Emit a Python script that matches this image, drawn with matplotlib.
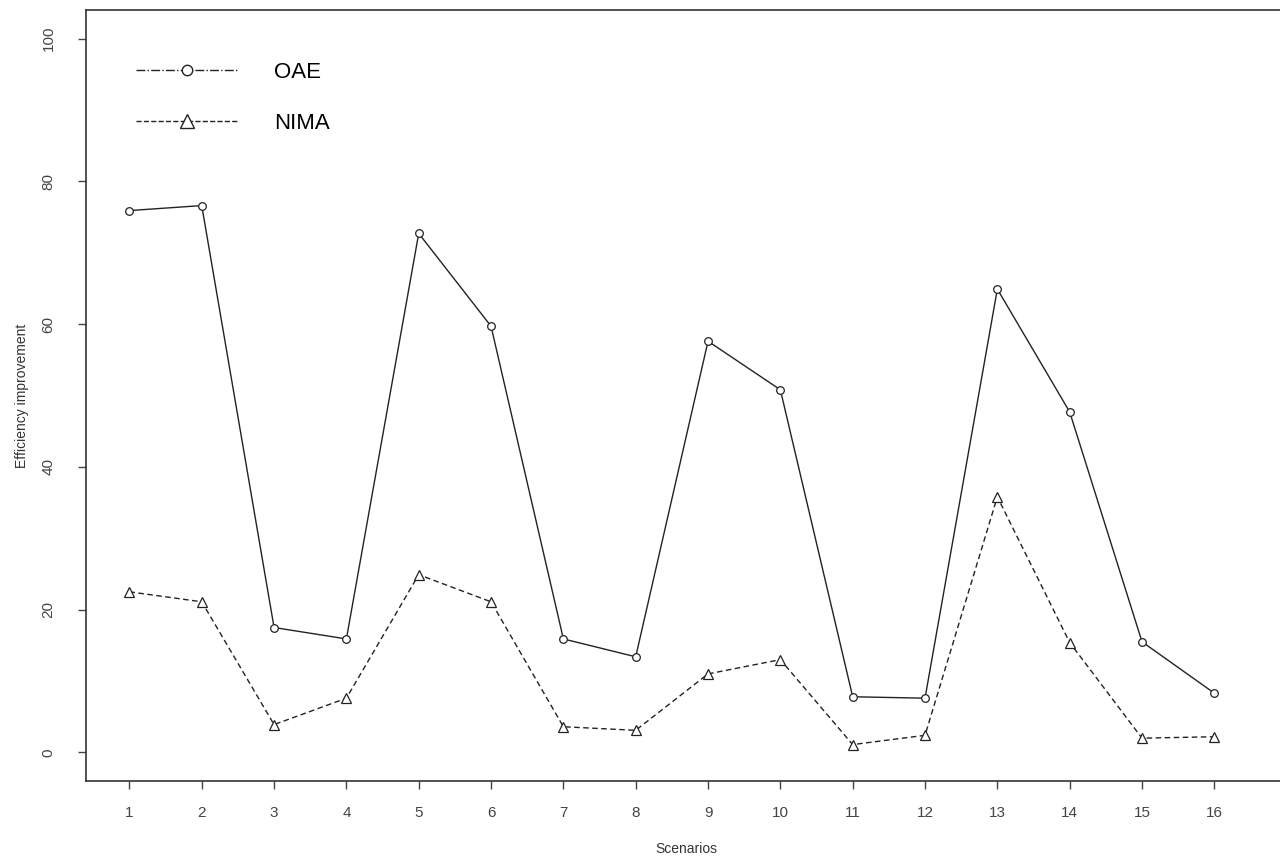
import numpy as np
import matplotlib.pyplot as plt
from matplotlib.lines import Line2D

plt.rcParams['font.family'] = ['Liberation Sans', 'DejaVu Sans']

scenarios = np.arange(1, 17)
oae = [75.9, 76.6, 17.5, 15.9, 72.7, 59.7, 15.9, 13.4, 57.6, 50.8, 7.8, 7.6, 64.9, 47.7, 15.5, 8.3]
nima = [22.5, 21.1, 3.9, 7.6, 24.9, 21.1, 3.6, 3.1, 11.0, 13.0, 1.1, 2.4, 35.8, 15.4, 2.0, 2.2]
yticks = [0, 20, 40, 60, 80, 100]

fig = plt.figure(figsize=(12.8, 8.59), dpi=100)
ax = fig.add_axes([0.0672, 0.0908, 0.938, 0.8976])

col = '#222222'
ax.plot(scenarios, oae, '-', color=col, lw=1.0, marker='o', ms=5.5,
        mfc='white', mec=col, mew=0.9)
ax.plot(scenarios, nima, '--', color=col, lw=1.0, marker='^', ms=7,
        mfc='white', mec=col, mew=0.9, dashes=(4, 2.5))

ax.set_xlim(0.4, 17.0)
ax.set_ylim(-4, 104)
ax.set_xticks(scenarios)
ax.set_yticks(yticks)
ax.set_yticklabels([str(v) for v in yticks], rotation=90, va='center')
ax.tick_params(axis='both', labelsize=11, colors='#444444', length=6, width=1)
ax.tick_params(axis='x', pad=12)
ax.tick_params(axis='y', pad=16)
for s in ax.spines.values():
    s.set_color('#333333')
    s.set_linewidth(1.2)
ax.spines['right'].set_visible(False)

ax.set_xlabel('Scenarios', fontsize=10, color='#333333', labelpad=16)
ax.set_ylabel('Efficiency improvement', fontsize=10, color='#333333', labelpad=9)

handles = [
    Line2D([], [], color=col, lw=1.0, ls='-.', marker='o', ms=7.5, mfc='white', mec=col),
    Line2D([], [], color=col, lw=1.0, ls='--', marker='^', ms=10, mfc='white', mec=col),
]
leg = ax.legend(handles, ['OAE', 'NIMA'], loc='upper left', bbox_to_anchor=(0.025, 0.959),
                frameon=False, fontsize=16, handlelength=4.6, handletextpad=1.6,
                labelspacing=1.35, markerscale=1.0)

fig.savefig('out.png', dpi=100)
